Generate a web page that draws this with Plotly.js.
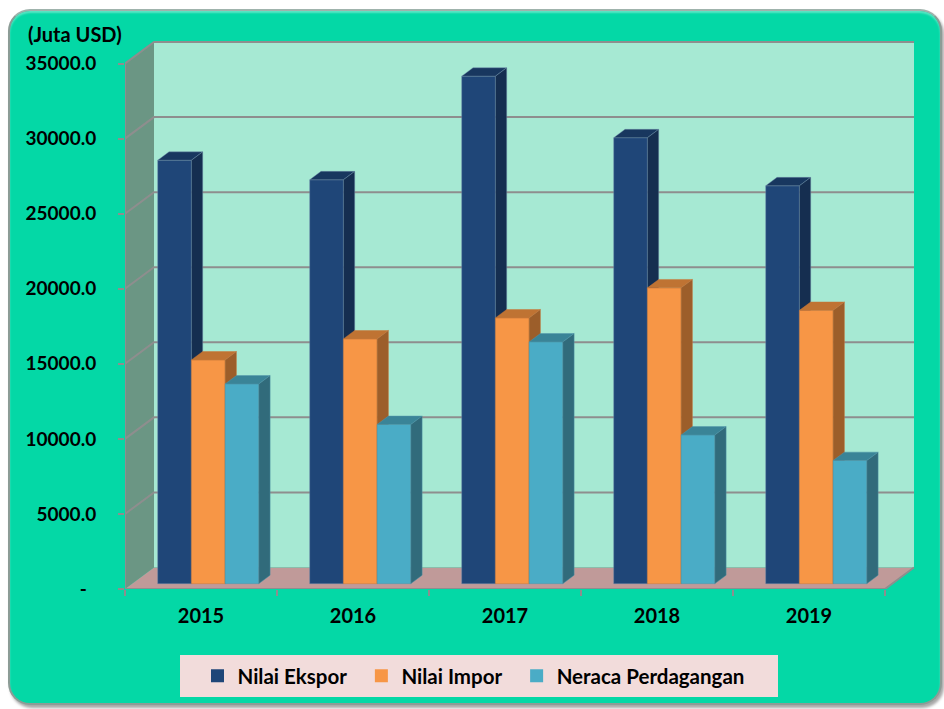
<!DOCTYPE html>
<html>
<head>
<meta charset="utf-8">
<script src="https://cdn.plot.ly/plotly-3.0.1.min.js"></script>
<style>
  html, body { margin: 0; padding: 0; background: #ffffff; }
  #wrap { position: relative; width: 944px; height: 709px; overflow: hidden; }
  #panel {
    position: absolute; left: 8px; top: 9px; width: 930px; height: 692px;
    background: #04D8A6;
    border: 2px solid #8c9c96;
    border-top-color: #9fb3ac;
    border-radius: 22px;
    box-shadow: 2px 3px 3px rgba(0,0,0,0.35), inset 0 2px 2px rgba(255,255,255,0.35);
  }
  #chart { position: absolute; left: 0; top: 0; width: 944px; height: 709px; }
</style>
</head>
<body>
<div id="wrap">
  <div id="panel"></div>
  <div id="chart"></div>
</div>
<script>
// Trade values (million USD)
const years = ['2015', '2016', '2017', '2018', '2019'];
const seriesNames = ['Nilai Ekspor', 'Nilai Impor', 'Neraca Perdagangan'];
const ekspor = [28200, 26900, 33800, 29700, 26500];
const impor = [14900, 16300, 17700, 19700, 18200];
const neraca = [13300, 10600, 16100, 9900, 8200];

// Value axis ticks
const yTickVals = [0, 5000, 10000, 15000, 20000, 25000, 30000, 35000];
const yTickText = ['-\u00a0\u00a0', '5000.0', '10000.0', '15000.0', '20000.0', '25000.0', '30000.0', '35000.0'];

// ---- drawing parameters ----
const PX_X = 152;          // pixels per category
const PX_Y = 0.015014;     // pixels per value unit
const M = { l: 125, r: 26, t: 40, b: 120 };
const W = 944, H = 709;
const xMin = -0.5;
const xMax = xMin + (W - M.l - M.r) / PX_X;
const yMin = 0;
const yMax = (H - M.t - M.b) / PX_Y;

const DX = 29 / PX_X;      // oblique depth shift (x units)
const DY = 21.5 / PX_Y;    // oblique depth shift (value units)
const WALL_TOP = yTickVals[yTickVals.length - 1];
const XL = -0.5, XR = years.length - 0.5;
const BW = 33.7 / PX_X;    // single bar width
const F0 = 0.25, F1 = 0.64; // bar front / back depth

const faceColors = [
  { front: '#1F4678', top: '#18375F', side: '#152E50', edge: 'rgba(110,140,170,0.55)' },
  { front: '#F79646', top: '#BF7333', side: '#9C5E2A', edge: 'rgba(200,120,60,0.6)' },
  { front: '#4AACC6', top: '#3A8497', side: '#316B7B', edge: 'rgba(80,150,170,0.6)' }
];
const values = [ekspor, impor, neraca];

function polyTrace(polys, fill, lineColor, lineWidth) {
  const xs = [], ys = [];
  polys.forEach(p => {
    p.forEach(pt => { xs.push(pt[0]); ys.push(pt[1]); });
    xs.push(p[0][0]); ys.push(p[0][1]);
    xs.push(null); ys.push(null);
  });
  return {
    type: 'scatter', mode: 'lines', x: xs, y: ys,
    fill: 'toself', fillcolor: fill,
    line: { color: lineColor || fill, width: lineWidth === undefined ? 0 : lineWidth },
    hoverinfo: 'skip', showlegend: false
  };
}

function lineTrace(segs, color, width) {
  const xs = [], ys = [];
  segs.forEach(s => {
    s.forEach(pt => { xs.push(pt[0]); ys.push(pt[1]); });
    xs.push(null); ys.push(null);
  });
  return {
    type: 'scatter', mode: 'lines', x: xs, y: ys,
    line: { color: color, width: width },
    hoverinfo: 'skip', showlegend: false
  };
}

const traces = [];

// side wall, back wall, floor
traces.push(polyTrace([[[XL, 0], [XL + DX, DY], [XL + DX, WALL_TOP + DY], [XL, WALL_TOP]]], '#6B9684'));
traces.push(polyTrace([[[XL + DX, DY], [XR + DX, DY], [XR + DX, WALL_TOP + DY], [XL + DX, WALL_TOP + DY]]], '#A6E9D3'));
traces.push(polyTrace([[[XL, 0], [XR, 0], [XR + DX, DY], [XL + DX, DY]]], '#C09A99'));

// gridlines on side wall and back wall
const gridSegs = yTickVals.filter(v => v > 0).map(v => [[XL, v], [XL + DX, v + DY], [XR + DX, v + DY]]);
traces.push(lineTrace(gridSegs, '#8E8E8E', 2));
// wall and floor edges
traces.push(lineTrace([
  [[XL, WALL_TOP], [XL, 0], [XR, 0], [XR + DX, DY]]
], '#8E8E8E', 2));

// bars: front, top and right side faces, drawn series by series
values.forEach((vals, j) => {
  const fronts = [], tops = [], sides = [];
  const ddx = (F1 - F0) * DX, ddy = (F1 - F0) * DY;
  vals.forEach((v, i) => {
    const x0 = i - 1.5 * BW + j * BW + F0 * DX;
    const x1 = x0 + BW;
    const yb = F0 * DY;
    const yt = v + F0 * DY;
    fronts.push([[x0, yb], [x1, yb], [x1, yt], [x0, yt]]);
    tops.push([[x0, yt], [x1, yt], [x1 + ddx, yt + ddy], [x0 + ddx, yt + ddy]]);
    sides.push([[x1, yb], [x1 + ddx, yb + ddy], [x1 + ddx, yt + ddy], [x1, yt]]);
  });
  const c = faceColors[j];
  traces.push(polyTrace(fronts, c.front, c.edge, 0.8));
  traces.push(polyTrace(tops, c.top, c.edge, 0.8));
  traces.push(polyTrace(sides, c.side, c.edge, 0.8));
});

// legend entries (trailing non-breaking spaces widen the gap between entries)
const legendPad = ['\u00a0\u00a0', '\u00a0\u00a0', ''];
seriesNames.forEach((name, j) => {
  traces.push({
    type: 'scatter', mode: 'markers', x: [null], y: [null], name: name + legendPad[j],
    marker: { symbol: 'square', size: 13, color: faceColors[j].front },
    hoverinfo: 'skip', showlegend: true
  });
});

// carrier for the category boundary tick axis
traces.push({ type: 'scatter', mode: 'markers', x: [null], y: [null], xaxis: 'x2', yaxis: 'y', showlegend: false, hoverinfo: 'skip' });

const FAMILY = 'Lato, "Open Sans", sans-serif';
const boldFont = { family: FAMILY, size: 19, color: '#000000', weight: 700 };
const xFont = { family: FAMILY, size: 20, color: '#000000', weight: 700 };
const legendFont = { family: FAMILY, size: 20.5, color: '#000000', weight: 700 };

const layout = {
  width: W, height: H,
  margin: M,
  paper_bgcolor: 'rgba(0,0,0,0)',
  plot_bgcolor: 'rgba(0,0,0,0)',
  showlegend: true,
  font: boldFont,
  xaxis: {
    range: [xMin, xMax], fixedrange: true,
    tickmode: 'array', tickvals: years.map((_, i) => i), ticktext: years,
    ticks: '', showgrid: false, zeroline: false, showline: false,
    tickfont: xFont, ticklabelstandoff: 13
  },
  xaxis2: {
    range: [xMin, xMax], overlaying: 'x', anchor: 'y', side: 'bottom', fixedrange: true,
    tickmode: 'array', tickvals: years.map((_, i) => i - 0.5).concat([years.length - 0.5]),
    ticks: 'outside', ticklen: 6, tickwidth: 2, tickcolor: '#8E8E8E',
    showticklabels: false, showgrid: false, zeroline: false, showline: false
  },
  yaxis: {
    range: [yMin, yMax], fixedrange: true,
    tickmode: 'array', tickvals: yTickVals, ticktext: yTickText,
    ticks: 'outside', ticklen: 6, tickwidth: 2, tickcolor: '#8E8E8E',
    showgrid: false, zeroline: false, showline: false,
    tickfont: boldFont, ticklabelstandoff: 18
  },
  legend: {
    orientation: 'h', xref: 'container', yref: 'container',
    x: 197.5 / W, xanchor: 'left', y: 1 - 676 / H, yanchor: 'middle',
    bgcolor: 'rgba(0,0,0,0)', font: legendFont, itemclick: false, itemdoubleclick: false
  },
  shapes: [{
    type: 'rect', xref: 'paper', yref: 'paper', layer: 'below',
    x0: (180 - M.l) / (W - M.l - M.r), x1: (778 - M.l) / (W - M.l - M.r),
    y0: 0, y1: 0,
    fillcolor: '#F2DCDB', line: { width: 0 }
  }],
  annotations: [{
    text: '(Juta USD)', xref: 'paper', yref: 'paper',
    x: (26 - M.l) / (W - M.l - M.r), xanchor: 'left',
    y: (H - M.b - 34) / (H - M.t - M.b), yanchor: 'middle',
    showarrow: false, font: { family: FAMILY, size: 20, color: '#000000', weight: 700 }
  }]
};
// legend backing box spans 655..697 px vertically
const plotH = H - M.t - M.b;
layout.shapes[0].y1 = ((H - M.b) - 655) / plotH;
layout.shapes[0].y0 = ((H - M.b) - 697) / plotH;

Plotly.newPlot('chart', traces, layout, { displayModeBar: false, staticPlot: true });
</script>
</body>
</html>
